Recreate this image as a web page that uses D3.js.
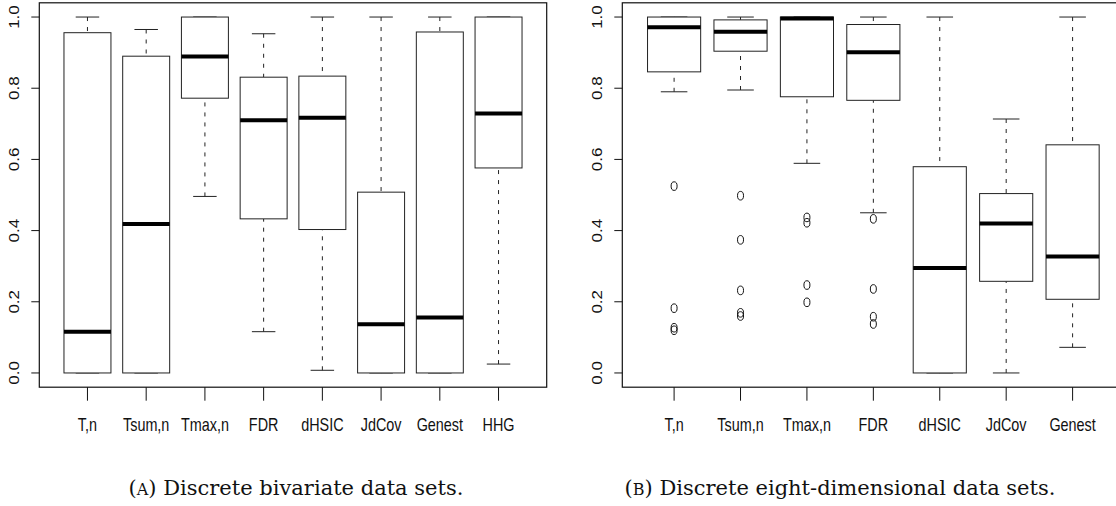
<!DOCTYPE html>
<html>
<head>
    <style>
        body { margin: 0; background: #fff; }
        .tick-x text { font: 18px "Liberation Sans", Arial, sans-serif; text-anchor: middle; fill: #111; }
        .tick-y text { font: 17px "Liberation Sans", Arial, sans-serif; text-anchor: middle; fill: #111; }
        .caption { font: 21px "DejaVu Serif", serif; text-anchor: middle; fill: #111; }
    </style>
    <script type="text/javascript" src="https://d3js.org/d3.v7.min.js"></script>
</head>
<body>
<svg width="1116" height="506"></svg>
<script>
    // (A) discrete bivariate data sets
    let labelsA = ["T,n", "Tsum,n", "Tmax,n", "FDR", "dHSIC", "JdCov", "Genest", "HHG"];
    let lowA  = [0, 0, 0.496, 0.116, 0.0075, 0, 0, 0.025];
    let q1A   = [0, 0, 0.772, 0.433, 0.403, 0, 0, 0.576];
    let medA  = [0.116, 0.4185, 0.889, 0.710, 0.717, 0.137, 0.156, 0.729];
    let q3A   = [0.956, 0.890, 1.0, 0.831, 0.834, 0.508, 0.958, 1.0];
    let highA = [1.0, 0.965, 1.0, 0.953, 1.0, 1.0, 1.0, 1.0];

    // (B) discrete eight-dimensional data sets
    let labelsB = ["T,n", "Tsum,n", "Tmax,n", "FDR", "dHSIC", "JdCov", "Genest"];
    let lowB  = [0.790, 0.795, 0.589, 0.450, 0, 0, 0.072];
    let q1B   = [0.846, 0.904, 0.776, 0.766, 0, 0.2575, 0.207];
    let medB  = [0.971, 0.959, 0.996, 0.901, 0.295, 0.420, 0.327];
    let q3B   = [1.0, 0.992, 1.0, 0.979, 0.5795, 0.504, 0.641];
    let highB = [1.0, 1.0, 1.0, 1.0, 1.0, 0.7135, 1.0];
    let outB  = [
        [0.525, 0.182, 0.127, 0.120],
        [0.498, 0.374, 0.232, 0.169, 0.160],
        [0.437, 0.422, 0.247, 0.1985],
        [0.433, 0.236, 0.158, 0.1376],
        [], [], []
    ];

    let yTicks = [0, 0.2, 0.4, 0.6, 0.8, 1.0];

    let svg = d3.select("svg");

    let y = d3.scaleLinear().domain([-0.04, 1.04]).range([387.2, 2.8]);

    function panel(left, width, labels, low, q1, med, q3, high, outs, caption, capX) {
        let n = labels.length;
        let x = d3.scaleLinear()
            .domain([0.5 - 0.04 * n, n + 0.5 + 0.04 * n])
            .range([left, left + width]);
        let g = svg.append("g");

        let boxes = g.selectAll(".box")
            .data(labels.map(function(d, i) {
                return { i: i + 1, low: low[i], q1: q1[i], med: med[i], q3: q3[i], high: high[i], out: outs ? outs[i] : [] };
            }))
            .enter()
            .append("g")
            .attr("class", "box");

        // whiskers, drawn from the staple towards the box
        boxes.append("line")
            .attr("x1", function(d) { return x(d.i); })
            .attr("x2", function(d) { return x(d.i); })
            .attr("y1", function(d) { return y(d.high); })
            .attr("y2", function(d) { return y(d.q3); })
            .attr("stroke", "#222").attr("stroke-dasharray", "4,6");
        boxes.append("line")
            .attr("x1", function(d) { return x(d.i); })
            .attr("x2", function(d) { return x(d.i); })
            .attr("y1", function(d) { return y(d.low); })
            .attr("y2", function(d) { return y(d.q1); })
            .attr("stroke", "#222").attr("stroke-dasharray", "4,6");

        // staples
        ["high", "low"].forEach(function(k) {
            boxes.append("line")
                .attr("x1", function(d) { return x(d.i - 0.2); })
                .attr("x2", function(d) { return x(d.i + 0.2); })
                .attr("y1", function(d) { return y(d[k]); })
                .attr("y2", function(d) { return y(d[k]); })
                .attr("stroke", "#222");
        });

        boxes.append("rect")
            .attr("x", function(d) { return x(d.i - 0.4); })
            .attr("width", function(d) { return x(d.i + 0.4) - x(d.i - 0.4); })
            .attr("y", function(d) { return y(d.q3); })
            .attr("height", function(d) { return y(d.q1) - y(d.q3); })
            .attr("fill", "#fff").attr("stroke", "#222");

        boxes.append("line")
            .attr("x1", function(d) { return x(d.i - 0.4); })
            .attr("x2", function(d) { return x(d.i + 0.4); })
            .attr("y1", function(d) { return y(d.med); })
            .attr("y2", function(d) { return y(d.med); })
            .attr("stroke", "#000").attr("stroke-width", 4);

        boxes.selectAll(".out")
            .data(function(d) { return d.out.map(function(v) { return { i: d.i, v: v }; }); })
            .enter()
            .append("ellipse")
            .attr("class", "out")
            .attr("cx", function(d) { return x(d.i); })
            .attr("cy", function(d) { return y(d.v); })
            .attr("rx", 3).attr("ry", 4.3)
            .attr("fill", "none").attr("stroke", "#111");

        // frame
        g.append("rect")
            .attr("x", x.range()[0]).attr("y", y.range()[1])
            .attr("width", width).attr("height", y.range()[0] - y.range()[1])
            .attr("fill", "none").attr("stroke", "#111").attr("stroke-width", 1.2);

        // y axis
        let yt = g.selectAll(".tick-y").data(yTicks).enter().append("g").attr("class", "tick-y");
        yt.append("line")
            .attr("x1", left - 8).attr("x2", left)
            .attr("y1", function(d) { return y(d); }).attr("y2", function(d) { return y(d); })
            .attr("stroke", "#111");
        yt.append("text")
            .attr("transform", function(d) { return "translate(" + (left - 20.5) + "," + y(d) + ") scale(0.84,1) rotate(-90)"; })
            .text(function(d) { return d3.format(".1f")(d); });

        // x axis, one tick per box
        let xt = g.selectAll(".tick-x").data(labels).enter().append("g").attr("class", "tick-x");
        xt.append("line")
            .attr("x1", function(d, i) { return x(i + 1); })
            .attr("x2", function(d, i) { return x(i + 1); })
            .attr("y1", y.range()[0]).attr("y2", y.range()[0] + 13.5)
            .attr("stroke", "#111");
        xt.append("text")
            .attr("transform", function(d, i) { return "translate(" + x(i + 1) + ",431) scale(0.8,1)"; })
            .text(function(d) { return d; });

        let cap = svg.append("text").attr("class", "caption")
            .attr("x", capX).attr("y", 495);
        cap.append("tspan").text("(");
        cap.append("tspan").attr("font-size", "16px").text(caption[0]);
        cap.append("tspan").text(") " + caption[1]);
    }

    panel(39.3, 507.4, labelsA, lowA, q1A, medA, q3A, highA, null,
        ["A", "Discrete bivariate data sets."], 296);
    panel(622.3, 502.1, labelsB, lowB, q1B, medB, q3B, highB, outB,
        ["B", "Discrete eight-dimensional data sets."], 840);
</script>
</body>
</html>
